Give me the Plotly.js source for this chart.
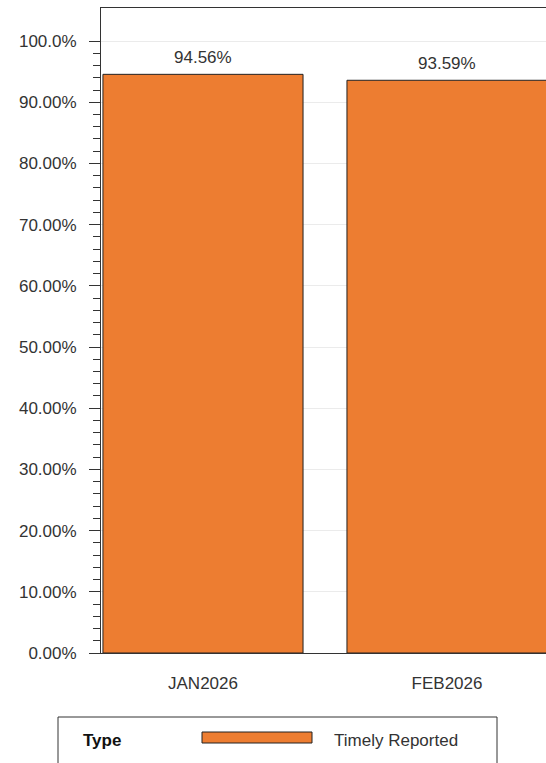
<!DOCTYPE html>
<html><head><meta charset="utf-8">
<script src="https://cdn.plot.ly/plotly-3.0.1.min.js"></script>
<style>html,body{margin:0;padding:0;background:#fff;overflow:hidden;} #chart{width:546px;height:763px;}</style>
</head><body><div id="chart"></div>
<script>
const categories = ['JAN2026', 'FEB2026'];
const timelyReported = [94.56, 93.59];
const yTickVals = [0, 10, 20, 30, 40, 50, 60, 70, 80, 90, 100];
const yTickText = ['0.00%', '10.00%', '20.00%', '30.00%', '40.00%', '50.00%', '60.00%', '70.00%', '80.00%', '90.00%', '100.0%'];
const seriesName = 'Timely Reported';
const legendTitle = 'Type';

const W = 546, H = 763, L = 101, R = 0, T = 8, B = 110;
const pw = W - L - R, ph = H - T - B;
const px2x = p => (p - L) / pw;
const px2y = p => (H - B - p) / ph;

const barColor = '#ED7D31';
const lineColor = '#333333';
const textColor = '#333333';
const FONT = '"Liberation Sans", Arial, sans-serif';

const minorVals = [];
for (let v = 2; v < 100; v += 2) if (v % 10 !== 0) minorVals.push(v);

const trace = {
  type: 'bar',
  x: categories,
  y: timelyReported,
  name: seriesName,
  marker: {color: barColor, line: {color: '#222222', width: 1}},
  hoverinfo: 'none',
  showlegend: false
};

const annotations = categories.map((c, i) => ({
  x: c, y: timelyReported[i], xref: 'x', yref: 'y',
  text: timelyReported[i].toFixed(2) + '%',
  showarrow: false, yanchor: 'middle', yshift: 17,
  font: {family: FONT, size: 17, color: textColor}
}));
annotations.push({
  xref: 'paper', yref: 'paper', x: px2x(81), y: px2y(740),
  xanchor: 'left', yanchor: 'middle', showarrow: false,
  text: '<b>' + legendTitle + '</b>',
  font: {family: FONT, size: 17, color: '#111111'}
});
annotations.push({
  xref: 'paper', yref: 'paper', x: px2x(332), y: px2y(740),
  xanchor: 'left', yanchor: 'middle', showarrow: false,
  text: seriesName,
  font: {family: FONT, size: 17, color: textColor}
});

const shapes = [
  {type: 'rect', xref: 'paper', yref: 'paper',
   x0: px2x(58), x1: px2x(497), y0: px2y(717), y1: px2y(790),
   line: {color: lineColor, width: 1}, fillcolor: 'rgba(0,0,0,0)'},
  {type: 'rect', xref: 'paper', yref: 'paper',
   x0: px2x(202), x1: px2x(312), y0: px2y(732), y1: px2y(743),
   line: {color: '#222222', width: 1}, fillcolor: barColor}
];

const layout = {
  width: W, height: H,
  margin: {l: L, r: R, t: T, b: B, pad: 0},
  paper_bgcolor: '#ffffff', plot_bgcolor: '#ffffff',
  font: {family: FONT, size: 17, color: textColor},
  bargap: 0.18,
  showlegend: false,
  xaxis: {
    type: 'category', range: [-0.418, 1.4057],
    showline: true, mirror: true, linecolor: lineColor, linewidth: 1,
    ticks: '', showgrid: false, zeroline: false,
    tickfont: {family: FONT, size: 17, color: textColor},
    ticklabelstandoff: 15, fixedrange: true
  },
  yaxis: {
    range: [0, 105.4], tickmode: 'array', tickvals: yTickVals, ticktext: yTickText,
    ticks: 'outside', ticklen: 11, tickcolor: lineColor, tickwidth: 1,
    showline: true, linecolor: lineColor, linewidth: 1,
    showgrid: true, gridcolor: '#ebebeb', gridwidth: 1, zeroline: false,
    tickfont: {family: FONT, size: 17, color: textColor},
    ticklabelstandoff: 9, fixedrange: true,
    minor: {tickmode: 'array', tickvals: minorVals, ticks: 'outside', ticklen: 7, tickcolor: lineColor, tickwidth: 1, showgrid: false}
  },
  annotations: annotations,
  shapes: shapes
};

Plotly.newPlot('chart', [trace], layout, {displayModeBar: false, staticPlot: true});
</script>
</body></html>
